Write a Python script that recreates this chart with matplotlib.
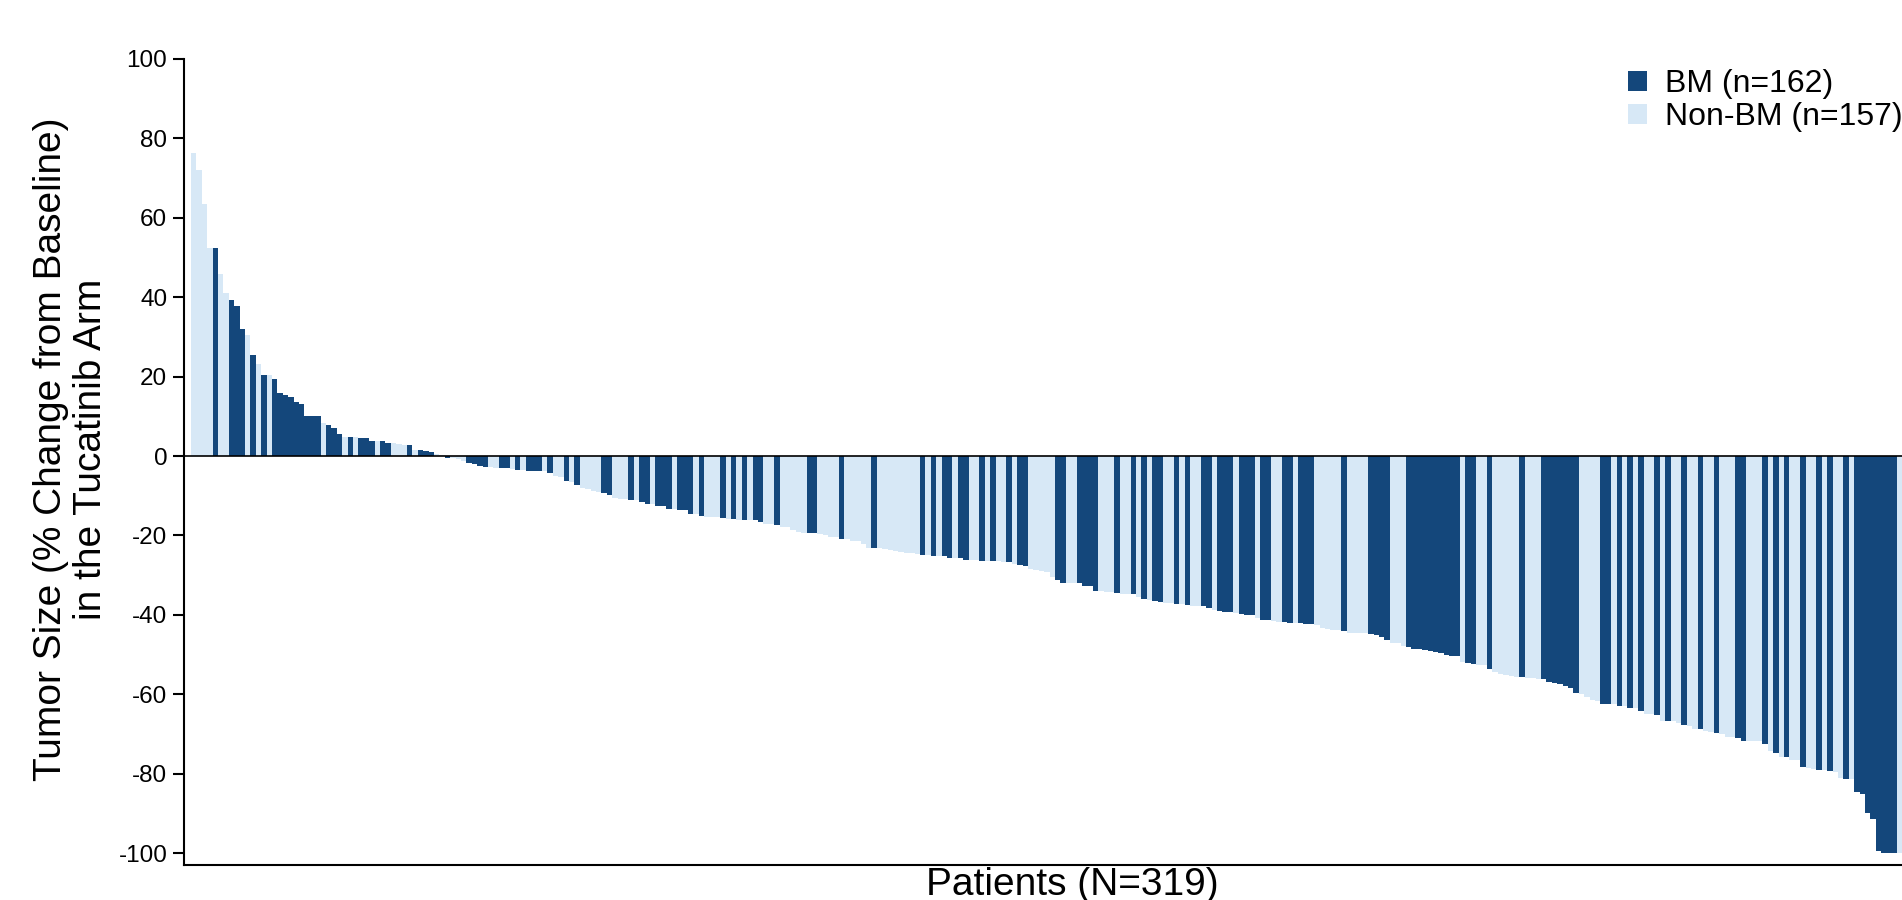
import matplotlib
matplotlib.use("Agg")
import matplotlib.pyplot as plt
from matplotlib.patches import Patch

plt.rcParams["font.family"] = ["Liberation Sans", "DejaVu Sans"]

# % change from baseline per patient, sorted (waterfall order)
change = [
    76.4, 72.1, 63.5, 52.3, 52.3, 45.9, 41.1, 39.4, 37.9, 32.1,
    30.6, 25.5, 23.3, 20.3, 20.3, 19.3, 15.8, 15.5, 14.8, 13.5,
    13.0, 10.2, 10.2, 10.0, 8.2, 7.7, 7.0, 5.5, 4.9, 4.9,
    4.7, 4.5, 4.5, 3.9, 3.8, 3.7, 3.4, 3.4, 3.1, 2.9,
    2.9, 1.4, 1.4, 1.2, 1.0, 0.5, 0.3, -0.5, -0.5, -0.8,
    -1.2, -1.8, -2.0, -2.5, -2.8, -2.8, -3.0, -3.0, -3.0, -3.3,
    -3.5, -3.5, -3.8, -3.8, -3.8, -3.8, -4.3, -5.1, -5.35, -6.4,
    -6.6, -7.4, -8.0, -8.4, -8.9, -9.1, -9.4, -9.9, -10.6, -10.9,
    -10.9, -11.1, -11.1, -11.6, -12.1, -12.1, -12.6, -12.6, -13.4, -13.4,
    -13.6, -13.6, -14.6, -14.6, -15.2, -15.4, -15.4, -15.4, -15.7, -15.9,
    -15.9, -16.2, -16.2, -16.2, -16.2, -16.7, -17.2, -17.2, -17.4, -17.9,
    -17.9, -18.7, -19.2, -19.4, -19.4, -19.4, -19.7, -19.9, -20.4, -20.4,
    -20.9, -20.9, -21.4, -21.4, -22.2, -23.2, -23.2, -23.2, -23.4, -23.7,
    -23.9, -24.2, -24.4, -24.4, -24.7, -24.9, -24.9, -25.2, -25.2, -25.2,
    -25.7, -25.7, -25.7, -26.2, -26.2, -26.2, -26.5, -26.5, -26.5, -26.5,
    -26.7, -26.7, -27.2, -27.5, -27.7, -28.5, -28.7, -29.0, -29.2, -30.5,
    -31.2, -32.0, -32.0, -32.0, -32.0, -32.7, -32.7, -34.0, -34.0, -34.2,
    -34.2, -34.5, -34.7, -34.7, -34.7, -35.5, -36.0, -36.3, -36.5, -36.8,
    -37.0, -37.0, -37.3, -37.3, -37.5, -37.8, -37.8, -37.8, -38.3, -38.8,
    -39.0, -39.3, -39.3, -39.5, -39.8, -40.0, -40.0, -40.8, -41.3, -41.3,
    -41.5, -41.8, -41.8, -42.0, -42.0, -42.0, -42.3, -42.3, -42.5, -43.3,
    -43.6, -43.8, -43.8, -44.1, -44.6, -44.6, -44.6, -44.6, -44.8, -45.1,
    -45.6, -46.3, -47.1, -47.1, -47.8, -48.1, -48.6, -48.6, -48.8, -49.1,
    -49.3, -49.6, -50.1, -50.3, -50.3, -51.8, -52.1, -52.4, -52.6, -52.6,
    -53.6, -54.4, -54.9, -55.1, -55.4, -55.6, -55.6, -55.9, -55.9, -56.1,
    -56.1, -56.9, -57.1, -57.4, -57.9, -58.4, -59.6, -59.9, -60.6, -61.4,
    -61.6, -62.4, -62.4, -62.4, -62.9, -62.9, -63.4, -63.4, -64.2, -64.9,
    -64.9, -65.2, -66.7, -66.7, -66.7, -67.2, -67.7, -67.9, -68.7, -68.7,
    -69.2, -69.4, -69.7, -69.9, -70.7, -70.7, -70.9, -71.7, -71.7, -71.7,
    -71.7, -72.5, -74.2, -74.7, -75.7, -75.7, -76.5, -76.5, -78.2, -78.5,
    -78.7, -79.0, -79.0, -79.2, -79.5, -81.0, -81.3, -81.3, -84.5, -85.0,
    -89.8, -91.5, -99.5, -100, -100, -100, -100, -100, -100,
]

# B = brain metastases, N = no brain metastases (one char per bar)
group = (
    "NNNNBNNBBB" "NBNBNBBBBB" "BBBBNBBBNB" "NBBBNBBNNN" "BNBBBNNBNN"
    "NBBBBNNBBN" "BNBBBNBNNB" "NBNNNNBBNN" "NBNBBNBBBN" "BBBNBNNNBN"
    "BNBNBBNNBN" "NNNNBBNNNN" "BNNNNNBNNN" "NNNNNBNBNB" "BNBBNNBNBN"
    "NBNBBNNNNN" "BBNNBBBBNN" "NBNNBNBNBB" "NNBNBNNBBN" "BBBNBBBNBB"
    "NNBBNBBBNN" "NNNBNNNNBB" "BBNNNBBBBB" "BBBBBNBBNN" "BNNNNNBNNN"
    "BBBBBBBNNN" "NBBNBNBNBN" "NBNBNNBNNB" "NNBNNNBBNN" "NBNBNBNNBN"
    "NBNBNNBNBB" "BBBBBBNBB"
)

legend_labels = ["BM (n=162)", "Non-BM (n=157)"]
yticks = [-100, -80, -60, -40, -20, 0, 20, 40, 60, 80, 100]

DARK = "#14477b"
LIGHT = "#d7e8f6"

fig = plt.figure(figsize=(19.02, 9), dpi=100)
ax = fig.add_axes([184 / 1902, 35 / 900, (1960 - 184) / 1902, 806 / 900])

colors = [DARK if g == "B" else LIGHT for g in group]
ax.bar(range(len(change)), change, width=1.0, color=colors,
       linewidth=0, antialiased=False)
ax.axhline(0, color="black", lw=1.2, zorder=3)

ax.set_xlim(-1.8, 327.1)
ax.set_ylim(-103, 100)
ax.set_xticks([])
ax.set_yticks(yticks)
ax.set_yticklabels([str(t) for t in yticks])
ax.tick_params(axis="y", length=8, width=1.5, pad=4, labelsize=17.5)
for s in ("top", "right"):
    ax.spines[s].set_visible(False)
for s in ("left", "bottom"):
    ax.spines[s].set_linewidth(1.5)
ax.spines["left"].set_bounds(-103, 100)

fig.text(71 / 1902, 0.501,
         "Tumor Size (% Change from Baseline)\nin the Tucatinib Arm",
         rotation=90, ha="center", va="center", ma="center",
         fontsize=28, linespacing=1.13)
fig.text(1072 / 1902, 1 - 867 / 900, "Patients (N=319)",
         ha="center", va="top", fontsize=28)

handles = [Patch(facecolor=DARK, edgecolor="none"),
           Patch(facecolor=LIGHT, edgecolor="none")]
fig.legend(handles, legend_labels, loc="upper left",
           bbox_to_anchor=(1628 / 1902, 1 - 69 / 900),
           frameon=False, fontsize=23, borderpad=0, borderaxespad=0,
           handlelength=0.6, handleheight=0.6, handletextpad=0.56,
           labelspacing=0.1)

fig.savefig("out.png", dpi=100)
